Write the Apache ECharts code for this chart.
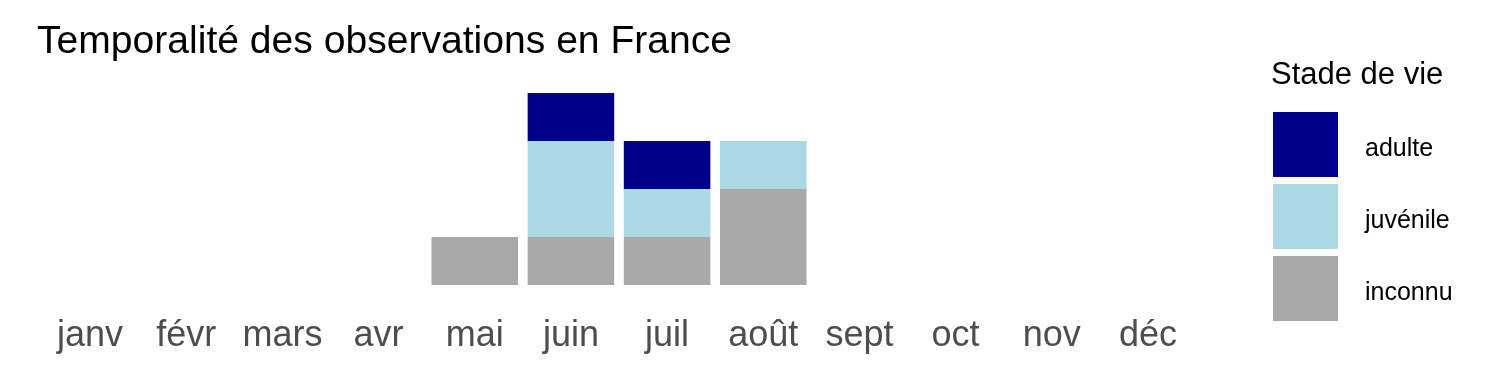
<!DOCTYPE html>
<html>
<head>
<meta charset="utf-8">
<script src="https://cdn.jsdelivr.net/npm/echarts@6/dist/echarts.min.js"></script>
<style>
html,body{margin:0;padding:0;background:#fff;}
#c{width:1500px;height:375px;}
</style>
</head>
<body>
<div id="c"></div>
<script>
const months = ['janv','févr','mars','avr','mai','juin','juil','août','sept','oct','nov','déc'];
const inconnu  = [0,0,0,0,1,1,1,2,0,0,0,0];
const juvenile = [0,0,0,0,0,2,1,1,0,0,0,0];
const adulte   = [0,0,0,0,0,1,1,0,0,0,0,0];
const seriesNames = ['adulte','juvénile','inconnu'];
const colors = {adulte:'#00008B', 'juvénile':'#ADD8E6', inconnu:'#A9A9A9'};

const FONT = '"Liberation Sans", Arial, sans-serif';
const chart = echarts.init(document.getElementById('c'), null, {renderer:'canvas'});

function mk(name, data){
  return {
    name: name, type:'bar', stack:'total', data: data.map(v => v === 0 ? null : v),
    barCategoryGap:'10%', itemStyle:{color:colors[name]}, emphasis:{disabled:true}
  };
}

chart.setOption({
  animation:false,
  backgroundColor:'#fff',
  title:[{
    text:'Temporalité des observations en France', left:32, top:18,
    textStyle:{fontFamily:FONT, fontSize:39.1, fontWeight:'normal', color:'#000'}
  },{
    text:'Stade de vie', left:1266, top:55,
    textStyle:{fontFamily:FONT, fontSize:31, fontWeight:'normal', color:'#000'}
  }],
  legend:{
    orient:'vertical', left:1273, top:112, padding:0, itemWidth:65, itemHeight:65, itemGap:7,
    data:seriesNames.map(n => ({name:n, icon:'rect'})),
    formatter: n => '{a|' + n + '}',
    textStyle:{fontFamily:FONT, fontSize:25, color:'#000', padding:[0,0,0,22],
      rich:{a:{fontFamily:FONT, fontSize:25, color:'#000', padding:[10,0,0,0]}}},
    selectedMode:false
  },
  grid:{left:42, width:1154, top:93, height:192, containLabel:false},
  xAxis:{
    type:'category', data:months,
    axisLine:{show:false}, axisTick:{show:false}, splitLine:{show:false},
    axisLabel:{fontFamily:FONT, fontSize:36, color:'#4D4D4D', margin:33, interval:0}
  },
  yAxis:{
    type:'value', min:0, max:4, interval:1, show:false, splitLine:{show:false}
  },
  series:[mk('inconnu', inconnu), mk('juvénile', juvenile), mk('adulte', adulte)]
});
</script>
</body>
</html>
